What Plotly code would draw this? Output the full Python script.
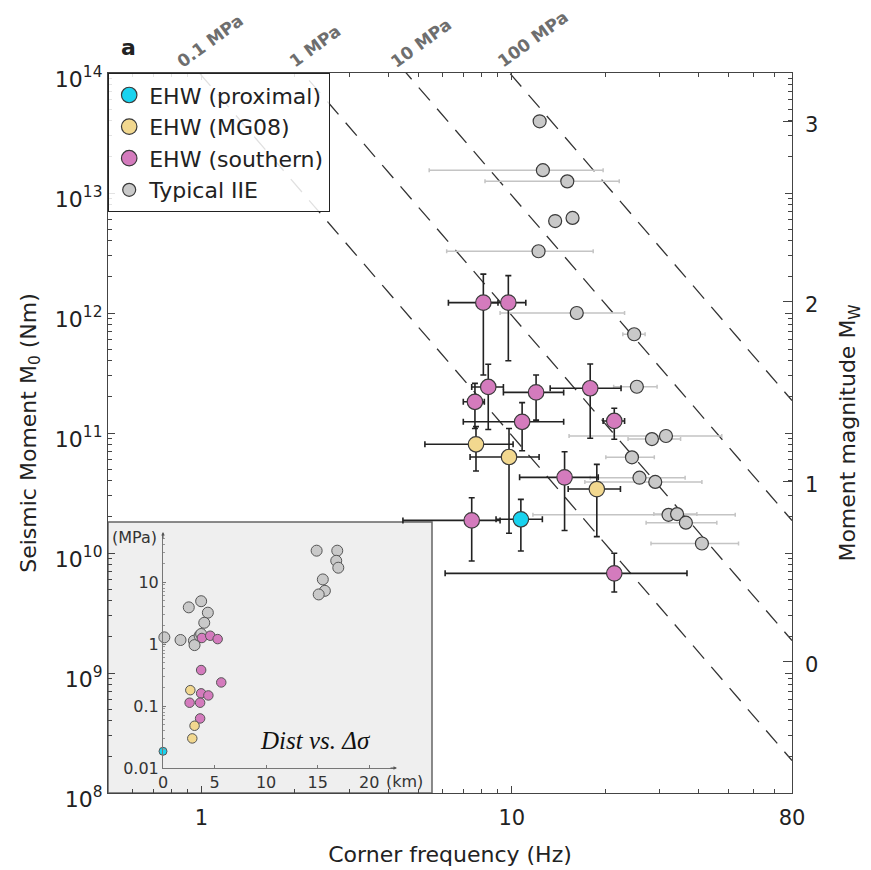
import numpy as np
import plotly.graph_objects as go

# ---------------- data ----------------
# Typical IIE (grey)
iie_fc = [12.3, 12.6, 15.1, 13.8, 15.7, 12.2, 16.2, 24.8, 25.3, 28.3, 31.4, 24.4, 25.8, 29.0, 32.0, 34.1, 36.4, 41.0]
iie_m0 = [3.96e13, 1.55e13, 1.25e13, 5.84e12, 6.2e12, 3.27e12, 1.0e12, 6.65e11, 2.43e11, 8.9e10, 9.44e10, 6.27e10, 4.24e10, 3.91e10, 2.08e10, 2.11e10, 1.79e10, 1.2e10]
iie_fc_lo = [None, 5.42, 8.2, None, None, 6.17, 9.17, 22.8, 21.3, 23.7, 15.3, 20.1, 17.9, 17.2, 11.7, 28.7, 27.1, 28.1]
iie_fc_hi = [None, 19.7, 22.2, None, None, 18.3, 23.1, 26.9, 29.4, 35.0, 47.5, 28.8, 36.2, 41.0, 52.5, 39.5, 45.8, 53.8]

# EHW (southern) - pink
sou_fc = [8.1, 9.75, 8.4, 7.61, 11.98, 17.9, 10.8, 21.4, 14.8, 7.43, 21.4]
sou_m0 = [1.22e12, 1.22e12, 2.42e11, 1.82e11, 2.18e11, 2.36e11, 1.24e11, 1.26e11, 4.27e10, 1.87e10, 6.77e9]
sou_fc_lo = [6.25, 8.5, 7.43, 6.98, 9.4, 13.3, 6.98, 19.7, 10.6, 4.46, 6.1]
sou_fc_hi = [9.03, 11.1, 9.4, 8.16, 14.7, 22.5, 14.7, 23.1, 19.0, 9.17, 36.7]
sou_m0_lo = [3.04e11, 4.0e11, 1.07e11, 1.09e11, 1.28e11, 9.04e10, 7.12e10, 8.86e10, 1.54e10, 8.58e9, 4.73e9]
sou_m0_hi = [2.11e12, 2.05e12, 3.74e11, 2.59e11, 3.04e11, 3.76e11, 1.79e11, 1.61e11, 6.98e10, 2.89e10, 9.94e9]

# EHW (MG08) - yellow
mg_fc = [7.67, 9.8, 18.8]
mg_m0 = [8.05e10, 6.31e10, 3.41e10]
mg_fc_lo = [5.25, 7.34, 15.2]
mg_fc_hi = [10.1, 12.25, 22.4]
mg_m0_lo = [4.82e10, 1.46e10, 1.37e10]
mg_m0_hi = [1.13e11, 1.09e11, 5.48e10]

# EHW (proximal) - cyan
prox_fc = [10.7]
prox_m0 = [1.91e10]
prox_fc_lo = [8.9]
prox_fc_hi = [12.55]
prox_m0_lo = [1.04e10]
prox_m0_hi = [2.8e10]

# stress-drop reference lines (MPa)
stress_mpa = [0.1, 1, 10, 100]
stress_labels = ["0.1 MPa", "1 MPa", "10 MPa", "100 MPa"]
LOG_C = 8.98  # M0 = C * dsigma / fc^3

# inset: distance (km) vs stress drop (MPa)
in_iie_d = [17.2, 14.9, 16.9, 16.8, 17.0, 15.5, 15.7, 15.1, 3.7, 2.5, 4.35, 4.0, 0.13, 1.7, 3.0, 3.06, 3.55, 3.7]
in_iie_s = [60, 32, 32, 22, 17, 11, 7.2, 6.3, 4.9, 3.9, 3.2, 2.2, 1.28, 1.16, 1.13, 0.96, 1.36, 1.45]
in_sou_d = [3.77, 4.58, 5.3, 3.7, 5.65, 3.7, 4.4, 2.58, 3.6, 3.6]
in_sou_s = [1.25, 1.36, 1.2, 0.38, 0.24, 0.16, 0.148, 0.113, 0.113, 0.063]
in_mg_d = [2.65, 3.06, 2.84]
in_mg_s = [0.18, 0.048, 0.030]
in_prox_d = [0.0]
in_prox_s = [0.0186]

# ---------------- styling ----------------
FONT = "DejaVu Sans, Liberation Sans, Arial, sans-serif"
C_CYAN = "#19d3ef"
C_YEL = "#f2d88f"
C_PINK = "#d47bbd"
C_GREY = "#c9c9c9"
EDGE = "#3a3a3a"

W, H = 871, 870
L, R, T, B = 108, 792, 73, 793


def px(x):
    return (x - L) / (R - L)


def py(y):
    return (B - y) / (B - T)


def plus(v, hi):
    return [None if h is None else h - a for a, h in zip(v, hi)]


def minus(v, lo):
    return [None if l is None else a - l for a, l in zip(v, lo)]


fig = go.Figure()

# stress lines
fgrid = np.array([0.5, 80.0])
for s in stress_mpa:
    m = 10 ** LOG_C * s * 1e6 / fgrid ** 3
    fig.add_trace(go.Scatter(x=fgrid, y=m, mode="lines", showlegend=False, hoverinfo="skip",
                             line=dict(color="#333333", width=1.3, dash="17px,11px")))

# IIE grey
fig.add_trace(go.Scatter(
    x=iie_fc, y=iie_m0, mode="markers", name="Typical IIE", legendrank=4,
    marker=dict(size=13, color=C_GREY, line=dict(color=EDGE, width=1.2)),
    error_x=dict(type="data", symmetric=False, array=plus(iie_fc, iie_fc_hi),
                 arrayminus=minus(iie_fc, iie_fc_lo), color="#c4c4c4", thickness=1.5, width=2),
))

err_style = dict(color="#222222", thickness=1.6, width=3)


def ehw(fc, m0, flo, fhi, mlo, mhi, name, color, rank):
    fig.add_trace(go.Scatter(
        x=fc, y=m0, mode="markers", name=name, legendrank=rank,
        marker=dict(size=15.5, color=color, line=dict(color=EDGE, width=1.2)),
        error_x=dict(type="data", symmetric=False, array=plus(fc, fhi), arrayminus=minus(fc, flo), **err_style),
        error_y=dict(type="data", symmetric=False, array=plus(m0, mhi), arrayminus=minus(m0, mlo), **err_style),
    ))


ehw(mg_fc, mg_m0, mg_fc_lo, mg_fc_hi, mg_m0_lo, mg_m0_hi, "EHW (MG08)", C_YEL, 2)
ehw(sou_fc, sou_m0, sou_fc_lo, sou_fc_hi, sou_m0_lo, sou_m0_hi, "EHW (southern)", C_PINK, 3)
ehw(prox_fc, prox_m0, prox_fc_lo, prox_fc_hi, prox_m0_lo, prox_m0_hi, "EHW (proximal)", C_CYAN, 1)

# inset traces
for d, s, col, sz in [(in_iie_d, in_iie_s, C_GREY, 11), (in_sou_d, in_sou_s, C_PINK, 9.5),
                      (in_mg_d, in_mg_s, C_YEL, 9.5), (in_prox_d, in_prox_s, C_CYAN, 8)]:
    fig.add_trace(go.Scatter(x=d, y=s, xaxis="x3", yaxis="y3", mode="markers", showlegend=False,
                             cliponaxis=False, hoverinfo="skip",
                             marker=dict(size=sz, color=col, line=dict(color="#555555", width=1))))

# axes
xminor = [0.5, 0.6, 0.7, 0.8, 0.9, 2, 3, 4, 5, 6, 7, 8, 9, 20, 30, 40, 50, 60, 70]
yminor = [k * 10 ** e for e in range(8, 14) for k in range(2, 10)]
ymajor = [10 ** e for e in range(8, 15)]

fig.update_layout(
    width=W, height=H,
    margin=dict(l=L, r=W - R, t=T, b=H - B, autoexpand=False),
    paper_bgcolor="white", plot_bgcolor="rgba(0,0,0,0)",
    font=dict(family=FONT, color="#222222"),
    showlegend=True,
    legend=dict(x=0, y=1, xanchor="left", yanchor="top", bgcolor="rgba(255,255,255,0.85)",
                bordercolor="#222222", borderwidth=1.2, font=dict(size=22, family=FONT, color="#222222"),
                itemsizing="trace", tracegroupgap=0),
    xaxis=dict(type="log", range=[np.log10(0.5), np.log10(80)], tickvals=[1, 10, 80], ticktext=["1", "10", "80"],
               ticks="inside", ticklen=7, tickcolor="#444", showline=True, linecolor="#444", linewidth=1.3,
               mirror="ticks", showgrid=False, zeroline=False, tickfont=dict(size=21), ticklabelstandoff=6,
               automargin=False,
               minor=dict(tickvals=xminor, ticks="inside", ticklen=4, tickcolor="#444", showgrid=False),
               title=dict(text="Corner frequency (Hz)", font=dict(size=22), standoff=17)),
    yaxis=dict(type="log", range=[8, 14], tickvals=ymajor, ticktext=[f"10<sup>{e}</sup>" for e in range(8, 15)],
               ticks="inside", ticklen=7, tickcolor="#444", showline=True, linecolor="#444", linewidth=1.3,
               mirror="ticks", showgrid=False, zeroline=False, tickfont=dict(size=22), ticklabelshift=6,
               automargin=False,
               minor=dict(tickvals=yminor, ticks="inside", ticklen=4, tickcolor="#444", showgrid=False),
               title=dict(text="Seismic Moment M<sub>0</sub> (Nm)", font=dict(size=22), standoff=12)),
    yaxis2=dict(overlaying="y", side="right", range=[(2 / 3) * (8 - 9.1), (2 / 3) * (14 - 9.1)],
                tickvals=[0, 1, 2, 3], ticks="inside", ticklen=9, tickcolor="#444", showline=False,
                showgrid=False, zeroline=False, tickfont=dict(size=21), ticklabelstandoff=12, ticklabelshift=4,
                automargin=False,
                title=dict(text="Moment magnitude M<sub>W</sub>", font=dict(size=22), standoff=22)),
    xaxis3=dict(domain=[px(163), px(395)], anchor="y3", range=[0, 22.5], tickvals=[0, 5, 10, 15, 20],
                ticks="inside", ticklen=3, tickcolor="#777", showline=True, linecolor="#777", linewidth=1,
                showgrid=False, zeroline=False, tickfont=dict(size=16, color="#333"), ticklabelstandoff=0,
                automargin=False),
    yaxis3=dict(domain=[py(768), py(535)], anchor="x3", type="log", range=[-2, 1.758],
                tickvals=[0.01, 0.1, 1, 10], ticktext=["0.01", "0.1", "1", "10"],
                ticks="inside", ticklen=3, tickcolor="#777", showline=True, linecolor="#777", linewidth=1,
                showgrid=False, zeroline=False, tickfont=dict(size=16, color="#333"), automargin=False,
                minor=dict(ticks="inside", ticklen=2, tickcolor="#999",
                           tickvals=[k * 10 ** e for e in range(-2, 2) for k in range(2, 10)])),
)

# trace on yaxis2 so it renders
fig.add_trace(go.Scatter(x=[1], y=[0], yaxis="y2", mode="markers", marker=dict(opacity=0),
                         showlegend=False, hoverinfo="skip"))

# inset background
fig.add_shape(type="rect", xref="paper", yref="paper", x0=px(108), x1=px(432), y0=py(793), y1=py(522),
              fillcolor="#efefef", line=dict(color="#666666", width=1.5), layer="below")

ann = []
# stress labels
label_pos = [(210, 41), (315, 46), (421, 43), (533, 39)]
for (xx, yy), t in zip(label_pos, stress_labels):
    ann.append(dict(x=px(xx), y=py(yy), xref="paper", yref="paper", text=f"<b>{t}</b>", showarrow=False,
                    xanchor="center", yanchor="middle", textangle=-36,
                    font=dict(size=17, color="#6e6e6e", family=FONT)))
ann.append(dict(x=px(128), y=py(48), xref="paper", yref="paper", text="<b>a</b>", showarrow=False,
                xanchor="center", yanchor="middle", font=dict(size=22, color="#222", family=FONT)))
ann.append(dict(x=px(315), y=py(740), xref="paper", yref="paper", text="<i>Dist vs. Δσ</i>", showarrow=False,
                xanchor="center", yanchor="middle",
                font=dict(size=25, color="#111", family="Liberation Serif, Times New Roman, serif")))
ann.append(dict(x=px(134), y=py(537), xref="paper", yref="paper", text="(MPa)", showarrow=False,
                xanchor="center", yanchor="middle", font=dict(size=16, color="#333", family=FONT)))
ann.append(dict(x=px(404), y=py(781), xref="paper", yref="paper", text="(km)", showarrow=False,
                xanchor="center", yanchor="middle", font=dict(size=16, color="#333", family=FONT)))
ann.append(dict(x=px(397), y=py(768), xref="paper", yref="paper", text="", showarrow=True, ax=-8, ay=0,
                arrowhead=2, arrowsize=0.7, arrowwidth=1, arrowcolor="#555"))
ann.append(dict(x=px(163), y=py(532), xref="paper", yref="paper", text="", showarrow=True, ax=0, ay=8,
                arrowhead=2, arrowsize=0.7, arrowwidth=1, arrowcolor="#555"))
fig.update_layout(annotations=ann)

fig.write_html("out.html")
